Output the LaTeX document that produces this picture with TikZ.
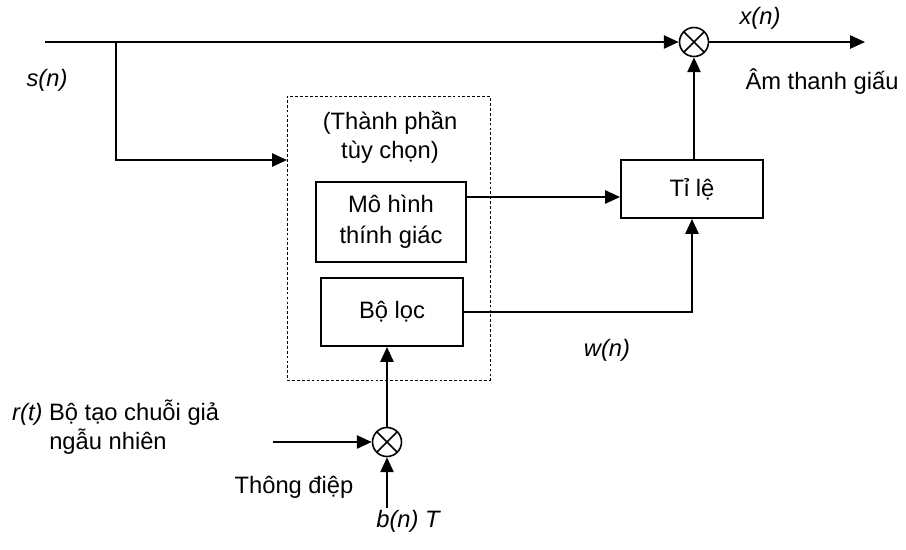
\documentclass[tikz,border=0pt]{standalone}
\usepackage{fontspec}
\setmainfont{Liberation Sans}
\usetikzlibrary{arrows.meta,positioning}

\begin{document}
\begin{tikzpicture}[
        x=0.02cm, y=-0.02cm,
        every node/.style={font=\fontsize{13.5}{16.5}\selectfont},
        block/.style={rectangle, draw, line width=1.1pt, align=center,
            minimum width=#1, inner sep=0pt},
        frame/.style={rectangle, draw, line width=0.5pt,
            dash pattern=on 1.6pt off 1.2pt, inner sep=0pt},
        mixer/.style={circle, draw, line width=0.9pt, minimum size=0.58cm, inner sep=0pt,
            path picture={\draw[line width=0.9pt]
                (path picture bounding box.south west) -- (path picture bounding box.north east)
                (path picture bounding box.north west) -- (path picture bounding box.south east);}},
        conn/.style={-{Triangle[length=8.5pt, width=7.5pt]}, line width=1.2pt},
        sig/.style={font=\fontsize{13.5}{16.5}\selectfont\itshape}
    ]
        \useasboundingbox (0,0) rectangle (906,549);
        \node[frame, minimum width=4.06cm, minimum height=5.68cm] (optional) at (388.5,238) {};
        \node[align=center] (optlabel) at (390,137) {(Thành phần\\tùy chọn)};
        \node[block=3.0cm, minimum height=1.6cm] (model) at (391,222) {Mô hình\\[1pt]thính giác};
        \node[block=2.84cm, minimum height=1.36cm] (filter) at (392,312) {Bộ lọc};
        \node[block=2.84cm, minimum height=1.16cm] (scale) at (692,189) {Tỉ lệ};
        \node[mixer] (mixout) at (694,42) {};
        \node[mixer] (mixin) at (387,442) {};
        \coordinate (sstart) at (45,42);
        \coordinate (branch) at (116,42);
        \coordinate (optin) at (287,160);
        \coordinate (xend) at (865,42);
        \coordinate (rstart) at (273,442);
        \coordinate (bstart) at (387,508);
        \node[sig] (slabel) at (47,80) {s(n)};
        \node[sig] (xlabel) at (760,18) {x(n)};
        \node (stego) at (822,82) {Âm thanh giấu};
        \node[sig] (wlabel) at (607,350) {w(n)};
        \node[anchor=west] (prng) at (6,413) {\textit{r(t)} Bộ tạo chuỗi giả};
        \node (prng2) at (108,442) {ngẫu nhiên};
        \node (msg) at (294,487) {Thông điệp};
        \node[sig] (blabel) at (408,521) {b(n) T};
        \draw[conn] (sstart) -- (mixout.west);
        \draw[conn] (branch) |- (optin);
        \draw[conn] (mixout.east) -- (xend);
        \draw[conn] (scale.north -| mixout.south) -- (mixout.south);
        \draw[conn] (model.east |- 0,197) -- (scale.west |- 0,197);
        \draw[conn] (filter.east) -| (scale.south);
        \draw[conn] (mixin.north) -- (filter.south -| mixin.north);
        \draw[conn] (rstart) -- (mixin.west);
        \draw[conn] (bstart) -- (mixin.south);
    \end{tikzpicture}
\end{document}
